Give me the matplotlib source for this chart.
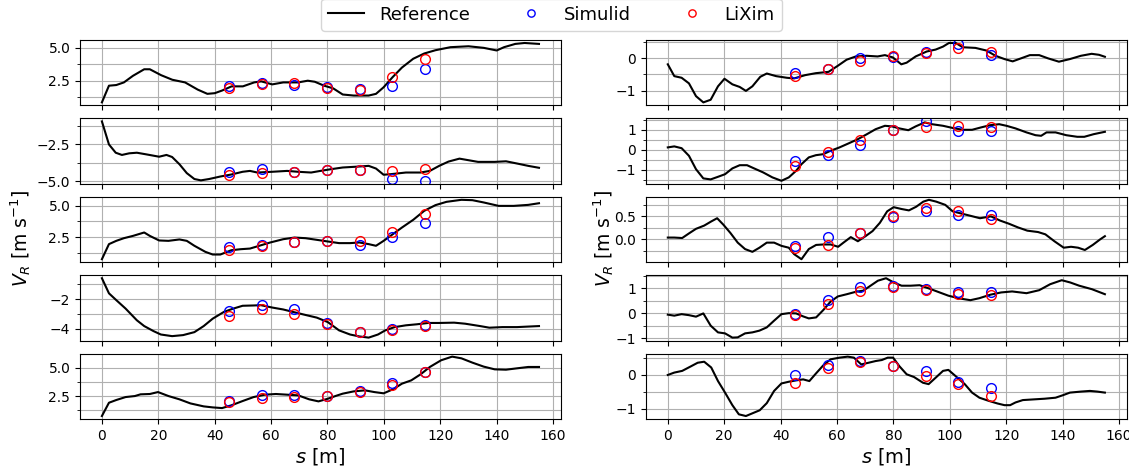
import matplotlib
matplotlib.use('Agg')
import matplotlib.pyplot as plt
from matplotlib.ticker import AutoMinorLocator

# distance along the track where the two solvers were sampled
s_obs = [45.2, 56.8, 68.2, 79.8, 91.4, 102.9, 114.5]

# ---- left column ----
ref_s_l1 = [0, 2.5, 5.1, 7.8, 11, 15, 17, 21, 25, 29.5, 34, 37.4, 40, 42.6, 46, 50, 54, 56.5, 60.4, 64.3,
            69.6, 73, 75.5, 78.8, 82, 85.4, 89.3, 94.6, 97.2, 99.9, 103, 106.4, 110.4, 114.3, 118.3, 123.6,
            130, 135.4, 140, 142.6, 146.6, 149.9, 155]
ref_v_l1 = [0.85, 2.12, 2.17, 2.37, 2.87, 3.37, 3.37, 2.92, 2.57, 2.37, 1.82, 1.5, 1.55, 1.75, 2.07, 2.07,
            2.37, 2.45, 2.22, 2.37, 2.37, 2.5, 2.42, 2.12, 1.92, 1.45, 1.37, 1.37, 1.5, 2.0, 2.75, 3.5, 4.17,
            4.57, 4.82, 5.05, 5.12, 5.0, 4.8, 5.05, 5.3, 5.37, 5.3]
sim_l1 = [2.12, 2.32, 2.2, 2.05, 1.87, 2.07, 3.42]
lix_l1 = [1.92, 2.25, 2.32, 1.95, 1.82, 2.75, 4.17]

ref_s_l2 = [0, 2.5, 4.9, 7.1, 9.7, 12.4, 15.7, 20.3, 22.9, 24.9, 27.5, 30.1, 32.8, 35.1, 38, 42, 46, 49.9,
            52.5, 55.1, 60.4, 65.7, 69.6, 74.2, 77.5, 81.4, 85.4, 90.7, 94.6, 97.2, 99.9, 102.5, 107.8, 113,
            116.3, 119.6, 122.9, 126.8, 129.5, 133.4, 139.3, 143.3, 147.2, 151.2, 155]
ref_v_l2 = [-0.94, -2.5, -3.06, -3.21, -3.1, -3.06, -3.17, -3.33, -3.21, -3.35, -3.84, -4.44, -4.84, -4.93,
            -4.84, -4.67, -4.53, -4.35, -4.29, -4.4, -4.35, -4.29, -4.35, -4.4, -4.29, -4.17, -4.06, -4.0,
            -3.95, -4.13, -4.55, -4.51, -4.4, -4.4, -4.29, -3.95, -3.66, -3.46, -3.55, -3.68, -3.68, -3.64,
            -3.79, -3.95, -4.08]
sim_l2 = [-4.35, -4.17, -4.35, -4.22, -4.2, -4.84, -4.96]
lix_l2 = [-4.55, -4.44, -4.35, -4.24, -4.22, -4.33, -4.17]

ref_s_l3 = [0, 2.5, 5.1, 7.8, 11, 15, 17, 20.3, 23.6, 27.5, 30.1, 32.8, 36.7, 39.3, 42, 45.9, 49.2, 52.5,
            55.8, 59.7, 64.3, 68.3, 72.2, 76.2, 80.1, 84.1, 88, 91.3, 94.6, 97.2, 99.9, 103.2, 106.4, 110.4,
            114.3, 118.3, 122.2, 127.5, 131.4, 135.4, 140.7, 146, 151.2, 155]
ref_v_l3 = [0.76, 1.95, 2.21, 2.42, 2.6, 2.87, 2.6, 2.24, 2.21, 2.32, 2.21, 1.82, 1.34, 1.13, 1.13, 1.47,
            1.55, 1.6, 1.82, 2.08, 2.34, 2.47, 2.42, 2.29, 2.16, 2.03, 2.03, 2.08, 1.95, 1.82, 2.21, 2.74,
            3.26, 3.87, 4.58, 5.03, 5.29, 5.45, 5.42, 5.24, 4.97, 4.97, 5.05, 5.18]
sim_l3 = [1.74, 1.92, 2.13, 2.18, 1.89, 2.55, 3.58]
lix_l3 = [1.5, 1.84, 2.08, 2.16, 2.21, 2.92, 4.29]

ref_s_l4 = [0, 2.5, 5.1, 8.4, 12.4, 15, 18.3, 20.9, 24.9, 28.8, 32.8, 36.1, 39.3, 43.3, 46.6, 49.9, 53.8,
            56.4, 60.4, 64.3, 68.3, 72.2, 76.2, 80.1, 84.1, 88, 91.3, 94.6, 97.9, 100.5, 103.8, 107.8,
            111.7, 115.7, 119.6, 124.9, 128.8, 134.1, 137.4, 142, 147.2, 155]
ref_v_l4 = [-0.59, -1.61, -2.07, -2.64, -3.43, -3.82, -4.16, -4.39, -4.5, -4.43, -4.23, -3.82, -3.32,
            -2.86, -2.64, -2.45, -2.43, -2.41, -2.57, -2.7, -2.89, -3.07, -3.25, -3.55, -4.11, -4.39,
            -4.52, -4.6, -4.39, -4.11, -3.89, -3.77, -3.7, -3.61, -3.61, -3.59, -3.66, -3.82, -3.93,
            -3.89, -3.89, -3.82]
sim_l4 = [-2.82, -2.41, -2.7, -3.63, -4.22, -4.03, -3.75]
lix_l4 = [-3.14, -2.7, -2.98, -3.66, -4.25, -4.07, -3.8]

ref_s_l5 = [0, 2.5, 5.1, 8.4, 11.7, 13.7, 17, 19.9, 23.6, 27.5, 31.4, 36.1, 39.3, 42.6, 45.9, 49.9, 53.8,
            57.8, 61.7, 65.7, 69.6, 73.5, 76.8, 80.1, 82.8, 85.4, 89.3, 93.3, 96.6, 99.9, 103.2, 106.4,
            109.7, 113, 116.3, 120.3, 124.2, 127.5, 131.4, 135.4, 139.3, 143.3, 147.2, 151.2, 155]
ref_v_l5 = [0.74, 1.91, 2.15, 2.41, 2.5, 2.65, 2.68, 2.85, 2.5, 2.21, 1.85, 1.59, 1.5, 1.44, 1.68, 2.06,
            2.41, 2.62, 2.68, 2.62, 2.56, 2.21, 2.03, 2.26, 2.5, 2.71, 2.91, 3.0, 2.85, 2.74, 3.09, 3.59,
            3.88, 4.41, 5.06, 5.65, 5.97, 5.82, 5.44, 5.09, 4.85, 4.82, 4.94, 5.06, 5.06]
sim_l5 = [2.1, 2.59, 2.62, 2.5, 2.94, 3.62, 4.65]
lix_l5 = [1.98, 2.32, 2.44, 2.47, 2.82, 3.44, 4.62]

# ---- right column ----
ref_s_r1 = [0, 2.3, 4.9, 7.5, 10, 12.6, 15.2, 17.8, 20.1, 22.9, 25.5, 27.7, 30, 32.8, 35.1, 38.4, 42.2,
            44.8, 48.7, 52.5, 57, 60.2, 63.4, 66.7, 70.5, 74.4, 77, 79.8, 82.8, 84.7, 87.9, 91.8, 95, 97.6,
            99.7, 102.1, 104.6, 109.1, 113, 116.2, 119.4, 122.3, 125.2, 128.4, 131.7, 134.9, 138.7, 142.6,
            146.5, 150.3, 152.9, 155]
ref_v_r1 = [-0.19, -0.55, -0.6, -0.77, -1.16, -1.35, -1.27, -0.86, -0.63, -0.8, -0.88, -1.0, -0.86, -0.57,
            -0.47, -0.55, -0.6, -0.62, -0.52, -0.46, -0.42, -0.24, -0.05, 0.05, 0.07, 0.05, 0.09, 0.02,
            -0.19, -0.14, 0.05, 0.2, 0.26, 0.35, 0.46, 0.46, 0.33, 0.31, 0.23, 0.07, -0.03, -0.1, -0.01,
            0.09, 0.09, -0.01, -0.11, -0.03, 0.07, 0.13, 0.1, 0.04]
sim_r1 = [-0.46, -0.34, 0.0, 0.04, 0.18, 0.43, 0.1]
lix_r1 = [-0.55, -0.34, -0.1, 0.05, 0.14, 0.3, 0.18]

ref_s_r2 = [0, 2.3, 4.9, 7.5, 10, 12.6, 15.2, 17.8, 20.3, 22.9, 25.5, 28.1, 30.6, 33.8, 37.1, 40.3, 42.9,
            45.5, 47.4, 50, 52.5, 55.1, 57.7, 60.9, 64.1, 67.4, 70.6, 73.7, 77, 79.5, 82.1, 85.3, 87.9,
            91.1, 93.7, 97.6, 101.4, 104.6, 107.9, 111.1, 114.3, 117.5, 120.1, 123.3, 127.2, 130.4, 132.4,
            134.3, 137.5, 141.3, 145.2, 147.7, 151, 155]
ref_v_r2 = [0.12, 0.17, 0.08, -0.3, -0.97, -1.43, -1.48, -1.35, -1.22, -0.93, -0.77, -0.77, -0.93, -1.13,
            -1.38, -1.55, -1.38, -1.05, -0.72, -0.38, -0.27, -0.22, -0.05, 0.12, 0.32, 0.53, 0.78, 1.03,
            1.2, 1.17, 1.07, 0.98, 1.17, 1.37, 1.28, 1.2, 1.08, 1.0, 1.0, 1.12, 1.23, 1.28, 1.2, 1.07,
            0.87, 0.73, 0.7, 0.87, 0.87, 0.73, 0.65, 0.65, 0.78, 0.9]
sim_r2 = [-0.58, -0.25, 0.25, 0.98, 1.42, 0.95, 0.95]
lix_r2 = [-0.8, -0.13, 0.5, 0.98, 1.15, 1.17, 1.12]

ref_s_r3 = [0, 2.3, 5.1, 7.5, 10, 12.9, 15.4, 17.5, 19.7, 22.2, 24.8, 27.4, 30, 32.5, 35.1, 37.7, 40.3,
            42.9, 44.8, 47.4, 50, 52.6, 55.2, 57.8, 60.4, 62.3, 64.9, 67.4, 70.1, 72.6, 75.2, 77.8, 80.1,
            82.9, 85.5, 88.1, 90.6, 92.6, 95.2, 98.4, 101, 104.2, 107.5, 110.7, 114.6, 117.8, 121, 124.2,
            127.5, 131.3, 133.9, 137.1, 140.4, 143, 145.5, 147.9, 150.7, 153.3, 155]
ref_v_r3 = [0.04, 0.04, 0.03, 0.13, 0.23, 0.3, 0.39, 0.46, 0.32, 0.14, -0.07, -0.21, -0.27, -0.18,
            -0.07, -0.07, -0.14, -0.18, -0.32, -0.43, -0.21, -0.12, -0.11, -0.11, -0.16, -0.07, 0.05,
            -0.04, 0.07, 0.18, 0.36, 0.61, 0.7, 0.66, 0.63, 0.71, 0.82, 0.86, 0.82, 0.75, 0.61, 0.56,
            0.51, 0.46, 0.5, 0.41, 0.34, 0.26, 0.19, 0.16, 0.11, -0.04, -0.18, -0.16, -0.18, -0.23,
            -0.12, 0.0, 0.07]
sim_r3 = [-0.14, 0.05, 0.13, 0.49, 0.62, 0.53, 0.54]
lix_r3 = [-0.19, -0.12, 0.14, 0.51, 0.69, 0.61, 0.44]

ref_s_r4 = [0, 2.3, 4.9, 7.5, 10, 12.6, 15.2, 17.8, 20.3, 22.9, 24.8, 27.4, 30, 32.5, 35.1, 37.7, 40.3,
            42.9, 45.5, 48, 50, 52.6, 55.1, 57.7, 60.3, 63.5, 66.8, 69.3, 71.9, 74.5, 77.4, 80.1, 82.9,
            86.1, 89.3, 92.6, 96.4, 99.5, 103.4, 107.3, 110.5, 114.4, 118.2, 122.1, 127.2, 131.7, 135.6,
            139.7, 142.7, 145.9, 150.4, 155]
ref_v_r4 = [-0.05, -0.09, -0.03, -0.07, -0.13, 0.0, -0.49, -0.76, -0.8, -0.97, -0.96, -0.8, -0.76,
            -0.69, -0.56, -0.29, -0.03, 0.01, 0.0, -0.12, -0.2, -0.16, 0.13, 0.47, 0.68, 0.77, 0.87, 0.91,
            1.11, 1.31, 1.41, 1.24, 1.11, 1.11, 1.13, 1.0, 0.84, 0.71, 0.6, 0.53, 0.61, 0.75, 0.84, 0.88,
            0.81, 0.93, 1.17, 1.33, 1.24, 1.11, 0.97, 0.77]
sim_r4 = [-0.03, 0.53, 1.04, 1.11, 0.97, 0.84, 0.87]
lix_r4 = [-0.07, 0.37, 0.88, 1.07, 0.95, 0.77, 0.75]

ref_s_r5 = [0, 2.3, 5.1, 8.1, 10.6, 12.9, 15.4, 17.8, 20.3, 22.9, 25.2, 27.7, 30, 32.6, 35.1, 37.7, 40.3,
            42.9, 45.5, 48, 50.2, 52.5, 55.1, 57.7, 60.9, 63.8, 66, 68.6, 71.2, 73.7, 75.9, 78, 79.9, 82.1,
            84.7, 87.3, 90.5, 92.5, 95, 97.6, 99.5, 102.7, 105.3, 107.9, 110.5, 113.7, 116.9, 119.4,
            121.4, 123.3, 125.9, 129.7, 133.6, 137.5, 140, 142.6, 146.5, 149.7, 152.3, 155]
ref_v_r5 = [0.0, 0.07, 0.12, 0.25, 0.36, 0.39, 0.22, -0.18, -0.52, -0.89, -1.16, -1.21, -1.13, -1.04,
            -0.83, -0.47, -0.25, -0.2, -0.16, -0.13, -0.18, 0.04, 0.28, 0.46, 0.51, 0.54, 0.51, 0.31,
            0.36, 0.41, 0.44, 0.51, 0.51, 0.26, 0.02, -0.06, -0.23, -0.27, -0.08, 0.12, 0.15, -0.08,
            -0.27, -0.52, -0.67, -0.76, -0.84, -0.89, -0.89, -0.81, -0.74, -0.72, -0.7, -0.67, -0.6,
            -0.52, -0.49, -0.47, -0.49, -0.52]
sim_r5 = [0.0, 0.28, 0.41, 0.26, 0.12, -0.21, -0.39]
lix_r5 = [-0.25, 0.2, 0.38, 0.25, -0.02, -0.27, -0.63]

left_panels = [
    (ref_s_l1, ref_v_l1, sim_l1, lix_l1),
    (ref_s_l2, ref_v_l2, sim_l2, lix_l2),
    (ref_s_l3, ref_v_l3, sim_l3, lix_l3),
    (ref_s_l4, ref_v_l4, sim_l4, lix_l4),
    (ref_s_l5, ref_v_l5, sim_l5, lix_l5),
]
right_panels = [
    (ref_s_r1, ref_v_r1, sim_r1, lix_r1),
    (ref_s_r2, ref_v_r2, sim_r2, lix_r2),
    (ref_s_r3, ref_v_r3, sim_r3, lix_r3),
    (ref_s_r4, ref_v_r4, sim_r4, lix_r4),
    (ref_s_r5, ref_v_r5, sim_r5, lix_r5),
]


def draw_panel(ax, ref_s, ref_v, sim, lix):
    ax.plot(ref_s, ref_v, color='k', lw=1.5, label='Reference')
    ax.plot(s_obs, sim, 'o', mfc='none', mec='b', ms=7, label='Simulid')
    ax.plot(s_obs, lix, 'o', mfc='none', mec='r', ms=7, label='LiXim')
    ax.yaxis.set_minor_locator(AutoMinorLocator(2))
    ax.grid(True, which='both')


fig = plt.figure(figsize=(11.29, 4.68), dpi=100)
axes = fig.subplots(5, 2, sharex=True, gridspec_kw=dict(
    left=0.0709, right=0.998, top=0.9145, bottom=0.1047, hspace=0.2, wspace=0.177))

for row, panel in enumerate(left_panels):
    draw_panel(axes[row, 0], *panel)
for row, panel in enumerate(right_panels):
    draw_panel(axes[row, 1], *panel)

axes[-1, 0].set_xlabel('$s$ [m]', fontsize=14, labelpad=2)
axes[-1, 1].set_xlabel('$s$ [m]', fontsize=14, labelpad=2)
fig.text(0.018, 0.49, '$V_R$ [m s$^{-1}$]', rotation=90, fontsize=13.5, ha='center', va='center')
fig.text(0.535, 0.49, '$V_R$ [m s$^{-1}$]', rotation=90, fontsize=13.5, ha='center', va='center')

handles, labels = axes[0, 0].get_legend_handles_labels()
fig.legend(handles, labels, loc='lower center', bbox_to_anchor=(0.4885, 0.9145), ncol=3, fontsize=13,
           columnspacing=2.4, markerscale=0.75)

fig.savefig('out.png', dpi=100)
